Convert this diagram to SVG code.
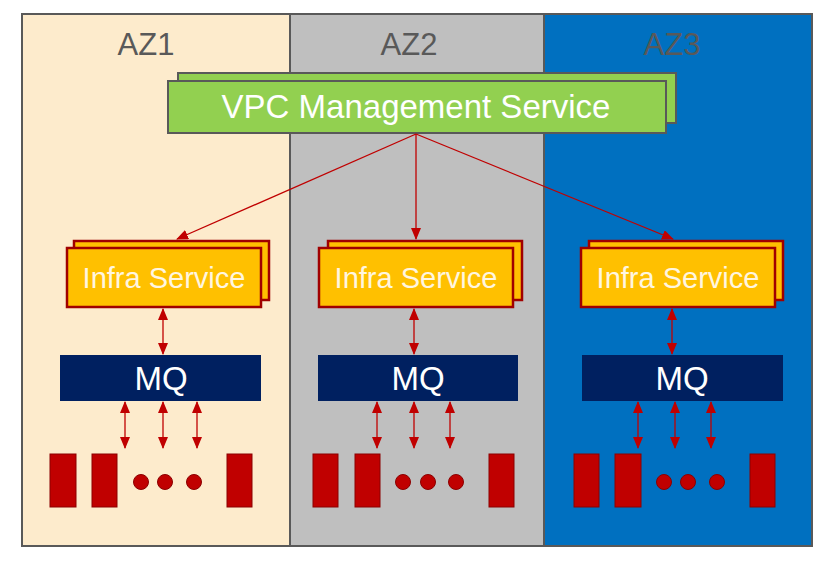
<svg xmlns="http://www.w3.org/2000/svg" width="835" height="561" viewBox="0 0 835 561">
<style>
.az{font-family:"Liberation Sans",Arial,sans-serif;font-size:31px;fill:#595959;text-anchor:middle}
.vpc{fill:#92D050;stroke:#595959;stroke-width:2}
.vpct{font-family:"Liberation Sans",Arial,sans-serif;font-size:33px;fill:#FFFFFF;text-anchor:middle}
.inf{fill:#FFC000;stroke:#A00000;stroke-width:2.5}
.inft{font-family:"Liberation Sans",Arial,sans-serif;font-size:29px;fill:#FFF6E0;text-anchor:middle}
.mq{fill:#002060}
.mqt{font-family:"Liberation Sans",Arial,sans-serif;font-size:33px;fill:#FFFFFF;text-anchor:middle}
.dev{fill:#C00000;stroke:#8B0000;stroke-width:1}
.ln{stroke:#C00000;stroke-width:1.3;fill:none}
</style>
<defs>
<marker id="ah" markerUnits="userSpaceOnUse" markerWidth="12" markerHeight="10" refX="11" refY="5" orient="auto-start-reverse" viewBox="0 0 12 10">
<path d="M0,0 L12,5 L0,10 Z" fill="#C00000"/>
</marker>
</defs>
<rect x="0" y="0" width="835" height="561" fill="#FFFFFF"/>
<g id="zones">
<rect x="22" y="14" width="268" height="532" fill="#FDEBCC"/>
<rect x="290" y="14" width="254" height="532" fill="#BFBFBF"/>
<rect x="544" y="14" width="268" height="532" fill="#0070C0"/>
<line x1="290" y1="14" x2="290" y2="546" stroke="#595959" stroke-width="2"/>
<line x1="544" y1="14" x2="544" y2="546" stroke="#595959" stroke-width="2"/>
<rect x="22" y="14" width="790" height="532" fill="none" stroke="#595959" stroke-width="2"/>
<text class="az" x="146" y="55">AZ1</text>
<text class="az" x="409" y="55">AZ2</text>
<text class="az" x="672" y="55">AZ3</text>
</g>
<g id="vpc">
<rect class="vpc" x="178" y="73" width="498" height="50"/>
<rect class="vpc" x="168" y="81" width="498" height="52"/>
<text class="vpct" x="416" y="118">VPC Management Service</text>
</g>
<g id="infra1">
<rect class="inf" x="74" y="241" width="195" height="59"/>
<rect class="inf" x="67" y="248" width="194" height="59"/>
<text class="inft" x="164" y="288">Infra Service</text>
</g>
<g id="infra2">
<rect class="inf" x="328" y="241" width="194" height="59"/>
<rect class="inf" x="319" y="248" width="194" height="59"/>
<text class="inft" x="416" y="288">Infra Service</text>
</g>
<g id="infra3">
<rect class="inf" x="589" y="241" width="194" height="59"/>
<rect class="inf" x="581" y="248" width="194" height="59"/>
<text class="inft" x="678" y="288">Infra Service</text>
</g>
<g id="mq1">
<rect class="mq" x="60" y="355" width="201" height="46"/>
<text class="mqt" x="161" y="390">MQ</text>
</g>
<g id="mq2">
<rect class="mq" x="318" y="355" width="200" height="46"/>
<text class="mqt" x="418" y="390">MQ</text>
</g>
<g id="mq3">
<rect class="mq" x="582" y="355" width="201" height="46"/>
<text class="mqt" x="682" y="390">MQ</text>
</g>
<g id="devices1">
<rect class="dev" x="50" y="454" width="26" height="53"/>
<rect class="dev" x="92" y="454" width="25" height="53"/>
<circle class="dev" cx="141" cy="482" r="7.5"/>
<circle class="dev" cx="165" cy="482" r="7.5"/>
<circle class="dev" cx="194" cy="482" r="7.5"/>
<rect class="dev" x="227" y="454" width="25" height="53"/>
</g>
<g id="devices2">
<rect class="dev" x="313" y="454" width="25" height="53"/>
<rect class="dev" x="355" y="454" width="25" height="53"/>
<circle class="dev" cx="403" cy="482" r="7.5"/>
<circle class="dev" cx="428" cy="482" r="7.5"/>
<circle class="dev" cx="456" cy="482" r="7.5"/>
<rect class="dev" x="489" y="454" width="25" height="53"/>
</g>
<g id="devices3">
<rect class="dev" x="574" y="454" width="25" height="53"/>
<rect class="dev" x="615" y="454" width="26" height="53"/>
<circle class="dev" cx="664" cy="482" r="7.5"/>
<circle class="dev" cx="688" cy="482" r="7.5"/>
<circle class="dev" cx="717" cy="482" r="7.5"/>
<rect class="dev" x="750" y="454" width="25" height="53"/>
</g>
<g id="connectors">
<line class="ln" x1="416" y1="134" x2="177" y2="239" marker-end="url(#ah)"/>
<line class="ln" x1="416" y1="134" x2="416" y2="239" marker-end="url(#ah)"/>
<line class="ln" x1="416" y1="134" x2="673" y2="239" marker-end="url(#ah)"/>
<line class="ln" x1="163" y1="309" x2="163" y2="354" marker-start="url(#ah)" marker-end="url(#ah)"/>
<line class="ln" x1="414" y1="309" x2="414" y2="354" marker-start="url(#ah)" marker-end="url(#ah)"/>
<line class="ln" x1="672" y1="309" x2="672" y2="354" marker-start="url(#ah)" marker-end="url(#ah)"/>
<line class="ln" x1="125" y1="402" x2="125" y2="448" marker-start="url(#ah)" marker-end="url(#ah)"/>
<line class="ln" x1="163" y1="402" x2="163" y2="448" marker-start="url(#ah)" marker-end="url(#ah)"/>
<line class="ln" x1="197" y1="402" x2="197" y2="448" marker-start="url(#ah)" marker-end="url(#ah)"/>
<line class="ln" x1="377" y1="402" x2="377" y2="448" marker-start="url(#ah)" marker-end="url(#ah)"/>
<line class="ln" x1="414" y1="402" x2="414" y2="448" marker-start="url(#ah)" marker-end="url(#ah)"/>
<line class="ln" x1="450" y1="402" x2="450" y2="448" marker-start="url(#ah)" marker-end="url(#ah)"/>
<line class="ln" x1="638" y1="402" x2="638" y2="448" marker-start="url(#ah)" marker-end="url(#ah)"/>
<line class="ln" x1="675" y1="402" x2="675" y2="448" marker-start="url(#ah)" marker-end="url(#ah)"/>
<line class="ln" x1="711" y1="402" x2="711" y2="448" marker-start="url(#ah)" marker-end="url(#ah)"/>
</g>
</svg>
